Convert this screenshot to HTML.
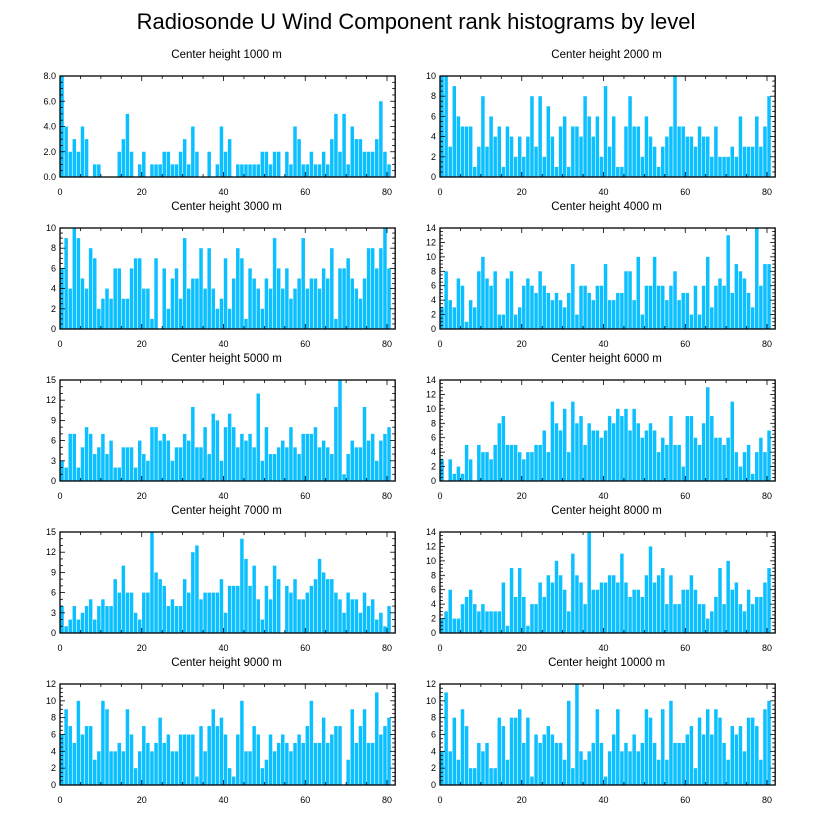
<!DOCTYPE html>
<html><head><meta charset="utf-8">
<style>
html,body{margin:0;padding:0;background:#fff;}
svg{display:block;font-family:"Liberation Sans",sans-serif;}
</style></head>
<body>
<svg id="chart" width="818" height="824" viewBox="0 0 818 824" xmlns="http://www.w3.org/2000/svg">
<text x="416" y="29" text-anchor="middle" font-size="22" fill="#000">Radiosonde U Wind Component rank histograms by level</text>
</svg>
<script>
const panelTitles = ["Center height 1000 m","Center height 2000 m","Center height 3000 m","Center height 4000 m","Center height 5000 m","Center height 6000 m","Center height 7000 m","Center height 8000 m","Center height 9000 m","Center height 10000 m"];
const yMaxes = [8,10,10,14,15,14,15,14,12,12];
const yTickSteps = [2,2,2,2,3,2,3,2,2,2];
const yTickDecimals = [1,0,0,0,0,0,0,0,0,0];
const xTicks = [0,20,40,60,80];
const h1000 = [8,4,2,3,2,4,3,0,1,1,0,0,0,0,2,3,5,2,0,1,2,0,1,1,1,2,2,1,1,2,3,1,4,2,0,0,2,0,1,4,2,3,0,1,1,1,1,1,1,2,2,1,2,2,0,2,1,4,3,1,1,2,1,1,2,1,3,5,2,5,1,4,3,3,2,2,2,3,6,2,1];
const h2000 = [10,10,3,9,6,5,5,5,1,3,8,3,6,4,5,1,5,4,2,4,2,4,8,3,8,2,7,4,1,5,6,1,5,5,4,8,6,4,6,2,9,3,6,1,1,5,8,5,5,2,6,4,3,1,3,4,5,10,5,5,4,4,3,5,4,4,2,5,2,2,2,3,2,6,3,3,3,6,3,5,8];
const h3000 = [6,9,4,10,9,5,4,8,7,2,3,4,3,6,6,3,3,6,7,7,4,4,1,7,0,6,2,5,6,3,9,4,5,5,8,4,8,4,2,3,7,2,5,8,7,1,6,5,4,2,5,4,9,6,4,6,3,4,5,9,4,5,5,4,6,5,8,1,6,6,7,5,4,3,5,8,8,6,8,10,6];
const h4000 = [3,8,4,3,7,6,1,4,3,8,10,7,6,8,2,2,7,8,2,3,6,7,6,5,8,6,5,4,5,4,3,5,9,2,6,6,5,4,6,6,9,4,4,5,5,8,8,4,10,2,6,6,10,6,6,4,6,8,4,5,5,2,6,2,6,10,3,6,7,6,13,5,9,8,7,5,3,14,6,9,9];
const h5000 = [3,2,7,7,2,5,8,7,4,5,7,4,6,2,2,5,5,5,2,6,4,3,8,8,6,7,6,3,5,5,7,6,11,5,5,8,4,10,9,3,8,10,8,5,7,6,7,5,13,3,8,4,4,5,6,5,8,5,4,7,7,7,8,5,6,5,4,11,15,1,4,6,5,5,11,6,7,3,6,7,8];
const h6000 = [3,0,3,1,2,1,5,3,0,5,4,4,3,5,8,9,5,5,5,4,3,4,4,5,5,7,4,11,8,7,10,4,11,8,9,5,8,7,7,6,7,9,8,10,9,10,7,10,8,6,7,8,7,4,6,5,9,5,5,2,9,9,6,5,8,13,9,6,6,5,6,11,4,2,4,5,1,4,6,4,7];
const h7000 = [4,1,2,4,2,3,4,5,2,4,5,4,4,8,6,10,6,6,3,2,6,6,15,9,8,7,4,5,4,4,8,6,12,13,5,6,6,6,6,8,3,7,7,7,14,11,7,10,5,2,7,5,10,8,0,7,6,8,5,5,6,7,8,11,9,8,8,6,5,3,6,5,5,3,6,4,5,2,3,1,4];
const h8000 = [2,3,6,2,2,4,5,6,4,3,4,3,3,3,3,7,1,9,5,9,5,1,4,4,7,5,8,7,10,8,6,3,11,8,7,4,14,6,6,7,7,8,8,7,11,7,5,6,6,5,8,12,7,8,9,4,8,4,4,6,6,8,6,4,4,2,3,5,9,4,10,6,7,4,3,6,4,5,5,7,9];
const h9000 = [6,9,7,5,10,6,7,7,3,4,10,9,4,4,5,4,9,6,2,4,7,5,4,5,8,5,6,4,4,6,6,6,6,1,7,4,7,9,7,8,6,2,1,6,10,4,4,7,6,2,3,6,4,5,6,5,4,5,6,5,7,10,5,5,8,5,6,7,7,0,3,9,5,7,9,5,5,11,6,7,8];
const h10000 = [4,11,4,8,3,9,7,2,2,5,4,5,2,2,8,7,3,8,8,9,5,8,1,6,5,6,7,6,5,5,3,10,2,12,4,3,4,5,9,5,1,4,6,9,4,5,4,6,4,5,9,8,5,3,9,3,10,5,5,5,6,7,2,8,6,9,6,9,8,5,3,7,6,7,4,8,8,7,3,9,10];
const seriesList = [h1000,h2000,h3000,h4000,h5000,h6000,h7000,h8000,h9000,h10000];

const NS = "http://www.w3.org/2000/svg";
const svg = document.getElementById("chart");
const XMAX = 82;
function mk(tag, attrs, parent){const e=document.createElementNS(NS,tag);for(const k in attrs)e.setAttribute(k,attrs[k]);parent.appendChild(e);return e;}

for (let p = 0; p < 10; p++) {
  const col = p % 2, row = Math.floor(p / 2);
  const x0 = col === 0 ? 60 : 440;
  const pw = 327 / 80 * XMAX;
  const yTop = 76 + 152 * row, yBot = 177 + 152 * row;
  const ph = yBot - yTop;
  const ymax = yMaxes[p];
  const xs = v => x0 + v / XMAX * pw;
  const ys = v => yBot - v / ymax * ph;

  const g = mk("g", {}, svg);
  
  

  const t = mk("text", {x: x0 + pw/2 - 1, y: yTop - 18, "text-anchor": "middle", "font-size": "11.5", fill: "#000"}, g);
  t.textContent = panelTitles[p];
  
  

  const data = seriesList[p];
  for (let i = 0; i < data.length; i++) {
    if (data[i] <= 0) continue;
    const bx = xs(i), bw = xs(i+1) - xs(i);
    const r = mk("rect", {x: bx + 0.3, y: ys(data[i]), width: bw - 0.6, height: yBot - ys(data[i]), fill: "#0cc0ff"}, g);
    
    
  }

  const frame = mk("rect", {x: x0, y: yTop, width: pw, height: ph, fill: "none", stroke: "#000", "stroke-width": "1.3"}, g);
  
  

  for (let v = 0; v <= XMAX; v += 5) {
    const major = v % 20 === 0;
    const L = major ? 5 : 3;
    mk("line", {x1: xs(v), x2: xs(v), y1: yBot, y2: yBot - L, stroke: "#000", "stroke-width": "0.8"}, g);
    mk("line", {x1: xs(v), x2: xs(v), y1: yTop, y2: yTop + L, stroke: "#000", "stroke-width": "0.8"}, g);
  }
  for (const v of xTicks) {
    const lt = mk("text", {x: xs(v), y: yBot + 18, "text-anchor": "middle", "font-size": "9", fill: "#000"}, g);
    lt.textContent = String(v);
    
    
  }
  const step = yTickSteps[p];
  const minor = step === 3 ? 1 : step / 4;
  for (let v = 0; v <= ymax + 1e-9; v += minor) {
    const isMaj = Math.abs(v / step - Math.round(v / step)) < 1e-6;
    const L = isMaj ? 5 : 3;
    mk("line", {x1: x0, x2: x0 + L, y1: ys(v), y2: ys(v), stroke: "#000", "stroke-width": "0.8"}, g);
    mk("line", {x1: x0 + pw, x2: x0 + pw - L, y1: ys(v), y2: ys(v), stroke: "#000", "stroke-width": "0.8"}, g);
  }
  for (let v = 0; v <= ymax + 1e-9; v += step) {
    const lt = mk("text", {x: x0 - 4, y: ys(v) + 3, "text-anchor": "end", "font-size": "9", fill: "#000"}, g);
    lt.textContent = v.toFixed(yTickDecimals[p]);
    
    
  }
}
</script>
</body></html>
